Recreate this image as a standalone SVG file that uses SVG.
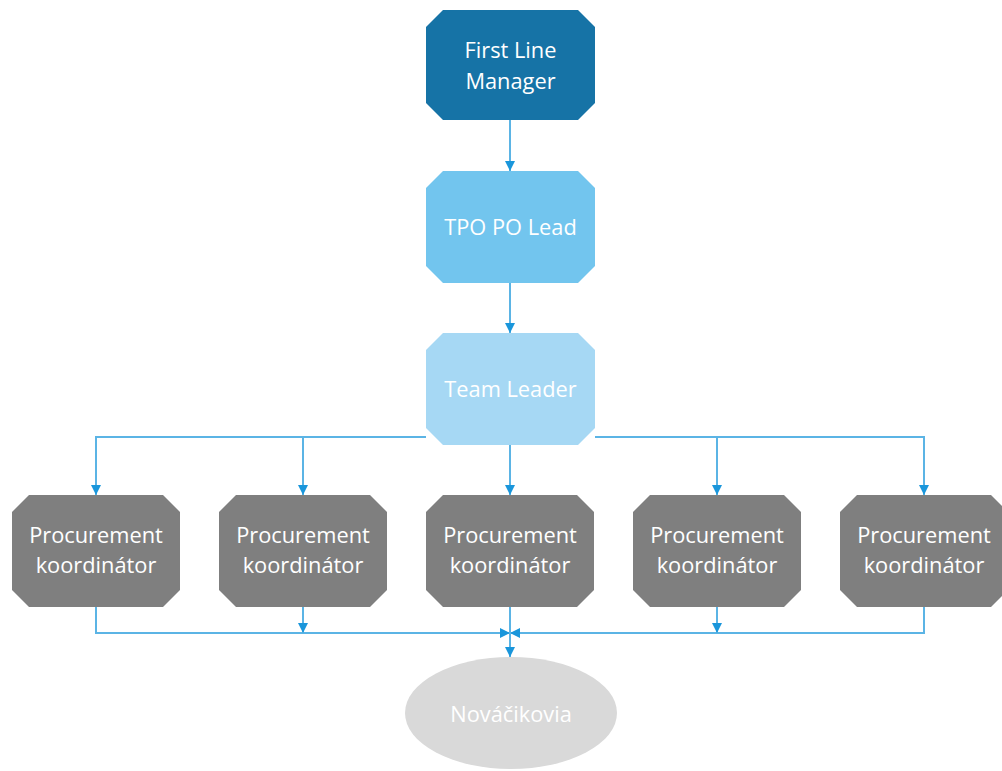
<svg xmlns="http://www.w3.org/2000/svg" width="1002" height="771" viewBox="0 0 1002 771">
<defs>
<style>
.lbl{font-family:"Open Sans","Liberation Sans",sans-serif;font-size:21.8px;fill:#ffffff;text-anchor:middle}
.c{fill:none;stroke:#5BB4E5;stroke-width:2}
.n1{fill:#1673A6}
.n2{fill:#72C5EE}
.n3{fill:#A6D8F4}
.n4{fill:#7F7F7F}
.n5{fill:#D9D9D9}
</style>
<marker id="ah" viewBox="0 0 10 10" refX="10" refY="5" markerWidth="10" markerHeight="10" markerUnits="userSpaceOnUse" orient="auto">
<path d="M0,0 L10,5 L0,10 Z" fill="#1A96DB"/>
</marker>
</defs>
<rect width="1002" height="771" fill="#ffffff"/>
<g id="connectors">
<path class="c" d="M510,120 V171" marker-end="url(#ah)"/>
<path class="c" d="M510,283 V333" marker-end="url(#ah)"/>
<path class="c" d="M426,437 H96 V495" marker-end="url(#ah)"/>
<path class="c" d="M303,437 V495" marker-end="url(#ah)"/>
<path class="c" d="M510,445 V495" marker-end="url(#ah)"/>
<path class="c" d="M595,437 H924 V495" marker-end="url(#ah)"/>
<path class="c" d="M717,437 V495" marker-end="url(#ah)"/>
<path class="c" d="M96,607 V633 H510" marker-end="url(#ah)"/>
<path class="c" d="M303,607 V633" marker-end="url(#ah)"/>
<path class="c" d="M924,607 V633 H510" marker-end="url(#ah)"/>
<path class="c" d="M717,607 V633" marker-end="url(#ah)"/>
<path class="c" d="M510,607 V657" marker-end="url(#ah)"/>
</g>
<g id="first-line-manager">
<path class="n1" d="M443,10 H578 L595,27 V103 L578,120 H443 L426,103 V27 Z"/>
<text class="lbl" x="510.5" y="58">First Line</text>
<text class="lbl" x="510.5" y="89">Manager</text>
</g>
<g id="tpo-po-lead">
<path class="n2" d="M443,171 H578 L595,188 V266 L578,283 H443 L426,266 V188 Z"/>
<text class="lbl" x="510.5" y="235">TPO PO Lead</text>
</g>
<g id="team-leader">
<path class="n3" d="M443,333 H578 L595,350 V428 L578,445 H443 L426,428 V350 Z"/>
<text class="lbl" x="510.5" y="397">Team Leader</text>
</g>
<g id="pk1">
<path class="n4" d="M29,495 H163 L180,512 V590 L163,607 H29 L12,590 V512 Z"/>
<text class="lbl" x="96" y="543">Procurement</text>
<text class="lbl" x="96" y="573">koordinátor</text>
</g>
<g id="pk2">
<path class="n4" d="M236,495 H370 L387,512 V590 L370,607 H236 L219,590 V512 Z"/>
<text class="lbl" x="303" y="543">Procurement</text>
<text class="lbl" x="303" y="573">koordinátor</text>
</g>
<g id="pk3">
<path class="n4" d="M443,495 H577 L594,512 V590 L577,607 H443 L426,590 V512 Z"/>
<text class="lbl" x="510" y="543">Procurement</text>
<text class="lbl" x="510" y="573">koordinátor</text>
</g>
<g id="pk4">
<path class="n4" d="M650,495 H784 L801,512 V590 L784,607 H650 L633,590 V512 Z"/>
<text class="lbl" x="717" y="543">Procurement</text>
<text class="lbl" x="717" y="573">koordinátor</text>
</g>
<g id="pk5">
<path class="n4" d="M857,495 H991 L1008,512 V590 L991,607 H857 L840,590 V512 Z"/>
<text class="lbl" x="924" y="543">Procurement</text>
<text class="lbl" x="924" y="573">koordinátor</text>
</g>
<g id="novacikovia">
<ellipse class="n5" cx="511" cy="713" rx="106" ry="56"/>
<text class="lbl" x="511" y="722">Nováčikovia</text>
</g>
</svg>
